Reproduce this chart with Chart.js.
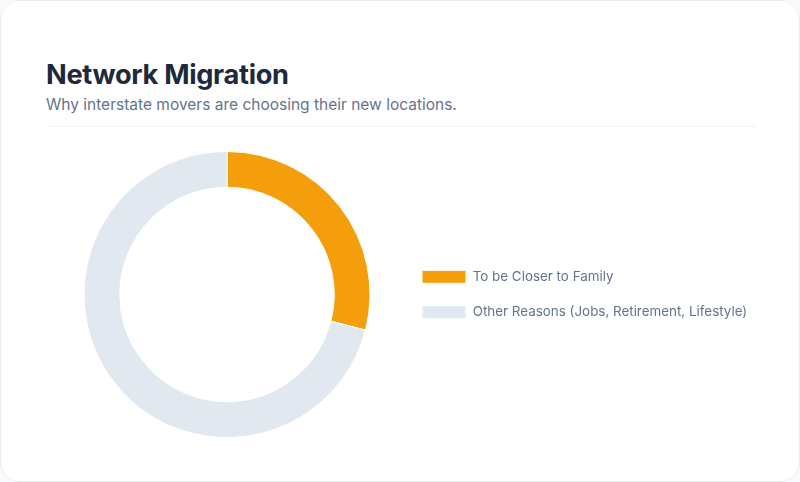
<!DOCTYPE html>
<html>
<head>
<meta charset="utf-8">
<script src="https://cdn.jsdelivr.net/npm/chart.js@4/dist/chart.umd.min.js"></script>
<style>
  html, body { margin: 0; padding: 0; background: #f8fafc; }
  body { width: 800px; height: 482px; position: relative; overflow: hidden; font-family: Inter, "Noto Sans", sans-serif; }
  .card { position: absolute; left: 0; top: 0; width: 798px; height: 480px; background: #fff; border: 1px solid #e9edf2; border-radius: 20px; }
  h1 { position: absolute; left: 45px; top: 57px; margin: 0; font-size: 27.2px; font-weight: 700; color: #1e293b; letter-spacing: -0.3px; }
  .sub { position: absolute; left: 45px; top: 94px; margin: 0; font-size: 15.5px; color: #64748b; }
  .rule { position: absolute; left: 45px; top: 125px; width: 710px; height: 1px; background: #f1f5f9; }
  .wrap { position: absolute; left: 53px; top: 150px; width: 692px; height: 287px; }
</style>
</head>
<body>
<div class="card">
  <h1>Network Migration</h1>
  <p class="sub">Why interstate movers are choosing their new locations.</p>
  <div class="rule"></div>
  <div class="wrap"><canvas id="c"></canvas></div>
</div>
<script>
const categories = ["To be Closer to Family", "Other Reasons (Jobs, Retirement, Lifestyle)"];
const shares = [29, 71];
const colors = ["#f59e0b", "#e2e8f0"];

new Chart(document.getElementById("c"), {
  type: "doughnut",
  data: {
    labels: categories,
    datasets: [{ data: shares, backgroundColor: colors, borderColor: "#ffffff", borderWidth: 1, hoverOffset: 0 }]
  },
  options: {
    responsive: true,
    maintainAspectRatio: false,
    animation: false,
    cutout: "75%",
    plugins: {
      legend: {
        position: "right",
        labels: {
          boxWidth: 44,
          boxHeight: 13,
          padding: 22,
          color: "#64748b",
          font: { family: "Inter", size: 13.4 }
        }
      },
      tooltip: { enabled: false }
    }
  }
});
</script>
</body>
</html>
